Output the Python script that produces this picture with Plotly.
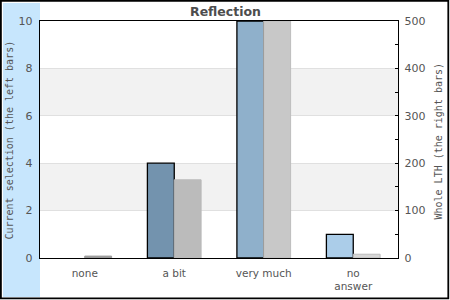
import plotly.graph_objects as go

categories = ["none", "a bit", "very much", "no<br>answer"]
current_values = [0, 4, 10, 1]
whole_values = [4, 165, 500, 8]
current_colors = ["#8fb0cb", "#7393ae", "#8fb0cb", "#abcde9"]
whole_colors = ["#9a9a9a", "#bbbbbb", "#c8c8c8", "#d6d6d6"]
whole_line_colors = ["#999999", "#bbbbbb", "#bdbdbd", "#bdbdbd"]
left_ticks = [0, 2, 4, 6, 8, 10]
right_ticks = [0, 100, 200, 300, 400, 500]

# pixel geometry helpers (plot area 40..398 x 21..258)
L, R, T, B = 40, 398, 21, 258
W, H = R - L, B - T
def px(x):
    return (x - L) / W
def py(y):
    return (B - y) / H

current_line_widths = [0 if v == 0 else 1.3 for v in current_values]

fig = go.Figure()
fig.add_trace(go.Bar(
    x=categories, y=current_values, yaxis="y", offsetgroup="1",
    marker=dict(color=current_colors, line=dict(color="black", width=current_line_widths)),
    name="Current selection",
))
fig.add_trace(go.Bar(
    x=categories, y=whole_values, yaxis="y2", offsetgroup="2",
    marker=dict(color=whole_colors, line=dict(color=whole_line_colors, width=1)),
    name="Whole LTH",
))

shapes = []
# light blue band on the left
shapes.append(dict(type="rect", xref="paper", yref="paper",
                   x0=px(3), x1=px(40), y0=py(297), y1=py(3),
                   fillcolor="#c7e6fd", line=dict(width=0), layer="below"))
# alternating grey bands
for lo, hi in [(2, 4), (6, 8)]:
    shapes.append(dict(type="rect", xref="paper", yref="y", x0=0, x1=1, y0=lo, y1=hi,
                       fillcolor="#f2f2f2", line=dict(width=0), layer="below"))
# outer border
shapes.append(dict(type="rect", xref="paper", yref="paper",
                   x0=px(0.9), x1=px(448.3), y0=py(298.3), y1=py(0.9),
                   line=dict(color="black", width=1.8), fillcolor="rgba(0,0,0,0)"))

annotations = [
    dict(text="Current selection (the left bars)", xref="paper", yref="paper",
         x=px(8.5), y=py(140), textangle=-90, showarrow=False,
         xanchor="center", yanchor="middle",
         font=dict(family="DejaVu Sans Mono", size=10, color="#555555")),
    dict(text="Whole LTH (the right bars)", xref="paper", yref="paper",
         x=px(437.5), y=py(141), textangle=-90, showarrow=False,
         xanchor="center", yanchor="middle",
         font=dict(family="DejaVu Sans Mono", size=10, color="#555555")),
    dict(text="<b>Reflection</b>", xref="paper", yref="paper",
         x=px(226), y=py(11.5), showarrow=False, xanchor="center", yanchor="middle",
         font=dict(family="DejaVu Sans", size=12.5, color="#4d4d4d")),
]

fig.update_layout(
    width=450, height=300,
    margin=dict(l=L, r=450 - R, t=T, b=300 - B, pad=0, autoexpand=False),
    paper_bgcolor="white", plot_bgcolor="white",
    barmode="group", bargap=0.4, bargroupgap=0,
    showlegend=False,
    shapes=shapes, annotations=annotations,
    font=dict(family="DejaVu Sans", color="#555555"),
    xaxis=dict(showline=True, linecolor="black", linewidth=1.4, mirror=True,
               ticks="", tickfont=dict(size=10.5, color="#555555"), showgrid=False,
               ticklabelstandoff=5, automargin=False),
    yaxis=dict(range=[0, 10], tickvals=left_ticks, showline=True, linecolor="black",
               linewidth=1.4, ticks="", showgrid=True, gridcolor="#e0e0e0", gridwidth=1,
               zeroline=False, tickfont=dict(size=11, color="#555555"),
               ticklabelstandoff=4, automargin=False),
    yaxis2=dict(range=[0, 500], tickvals=right_ticks, overlaying="y", side="right",
                showline=True, linecolor="black", linewidth=1.4, showgrid=False,
                zeroline=False, ticks="inside", ticklen=3, tickcolor="black",
                minor=dict(ticks="inside", ticklen=3, dtick=50, tickcolor="black"),
                tickfont=dict(size=11, color="#555555"), ticklabelstandoff=3,
                automargin=False),
)

fig.write_html("out.html")
